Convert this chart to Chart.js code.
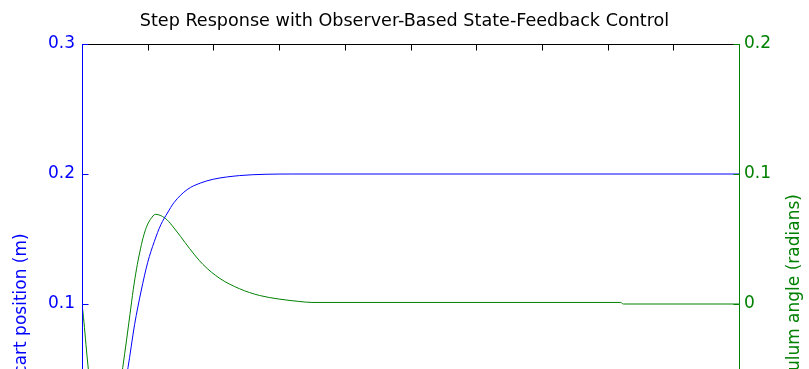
<!DOCTYPE html>
<html>
<head>
<meta charset="utf-8">
<script src="https://cdn.jsdelivr.net/npm/chart.js@4.4.1/dist/chart.umd.min.js"></script>
<style>
  html, body { margin: 0; padding: 0; background: #fff; overflow: hidden; width: 809px; height: 369px; }
  #wrap { position: relative; width: 809px; height: 660px; }
</style>
</head>
<body>
<div id="wrap"><canvas id="c" width="809" height="660"></canvas></div>
<script>
// Labels
const chartTitle = 'Step Response with Observer-Based State-Feedback Control';
const leftLabel = 'cart position (m)';
const rightLabel = 'pendulum angle (radians)';
const xLabel = 'Time (sec)';

// Cart position response (m)
const timeCart = [0, 0.05, 0.1, 0.15, 0.2, 0.25, 0.3, 0.35, 0.4, 0.45, 0.5, 0.55, 0.6, 0.65, 0.7, 0.8, 0.9, 1.0, 1.2, 1.4, 1.6, 5.0];
const cartPos  = [0, -0.004, -0.009, -0.010, -0.006, 0.005, 0.024, 0.051, 0.084, 0.110, 0.132, 0.148, 0.161, 0.170, 0.178, 0.188, 0.193, 0.196, 0.1988, 0.1998, 0.2, 0.2];

// Pendulum angle response (radians)
const timeAngle = [0, 0.015, 0.03, 0.045, 0.08, 0.12, 0.16, 0.2, 0.25, 0.29, 0.31, 0.34, 0.365, 0.39, 0.415, 0.44, 0.465, 0.49, 0.52, 0.56, 0.6, 0.65, 0.7, 0.75, 0.82, 0.92, 1.05, 1.2, 1.35, 1.5, 1.65, 1.75, 4.1, 4.12, 5.0];
const angle     = [0, -0.014, -0.031, -0.047, -0.080, -0.105, -0.116, -0.110, -0.089, -0.064, -0.049, -0.027, -0.008, 0.011, 0.027, 0.040, 0.051, 0.059, 0.065, 0.069, 0.068, 0.0645, 0.0585, 0.052, 0.0425, 0.0305, 0.0196, 0.0117, 0.0066, 0.0038, 0.002, 0.0012, 0.0012, 0, 0];

// Tick values
const xTicks = [0, 0.5, 1, 1.5, 2, 2.5, 3, 3.5, 4, 4.5, 5];
const leftTicks = [-0.1, 0, 0.1, 0.2, 0.3];
const rightTicks = [-0.2, -0.1, 0, 0.1, 0.2];

const FONT = 'DejaVu Sans';
const BLUE = '#0000ff';
const GREEN = '#008000';
const fmt = v => String(Number(v.toFixed(2)));
const setTicks = list => scale => { scale.ticks = list.map(v => ({ value: v })); };

// Box outline with inward-pointing tick marks, plus the right-hand axis title
const framePlugin = {
  id: 'frame',
  afterDraw(chart) {
    const { ctx, chartArea: a, scales } = chart;
    const L = Math.round(a.left) + 0.5, R = Math.round(a.right) + 0.5;
    const T = Math.round(a.top) + 0.5, B = Math.round(a.bottom) + 0.5;
    const TL = 6;
    ctx.save();
    ctx.lineWidth = 1;

    ctx.strokeStyle = '#000';
    ctx.beginPath();
    ctx.moveTo(L, T); ctx.lineTo(R, T);
    ctx.moveTo(L, B); ctx.lineTo(R, B);
    scales.x.ticks.forEach(t => {
      const px = Math.round(scales.x.getPixelForValue(t.value)) + 0.5;
      ctx.moveTo(px, T); ctx.lineTo(px, T + TL);
      ctx.moveTo(px, B); ctx.lineTo(px, B - TL);
    });
    ctx.stroke();

    ctx.strokeStyle = BLUE;
    ctx.beginPath();
    ctx.moveTo(L, T - 0.5); ctx.lineTo(L, B + 0.5);
    scales.y.ticks.forEach(t => {
      const py = Math.round(scales.y.getPixelForValue(t.value)) + 0.5;
      ctx.moveTo(L, py); ctx.lineTo(L + TL, py);
    });
    ctx.stroke();

    ctx.strokeStyle = GREEN;
    ctx.beginPath();
    ctx.moveTo(R, T - 0.5); ctx.lineTo(R, B + 0.5);
    scales.y1.ticks.forEach(t => {
      const py = Math.round(scales.y1.getPixelForValue(t.value)) + 0.5;
      ctx.moveTo(R, py); ctx.lineTo(R - TL, py);
    });
    ctx.stroke();

    ctx.fillStyle = GREEN;
    ctx.font = '17px "' + FONT + '"';
    ctx.textAlign = 'center';
    ctx.textBaseline = 'middle';
    ctx.translate(795, (a.top + a.bottom) / 2);
    ctx.rotate(-Math.PI / 2);
    ctx.fillText(rightLabel, 0, 0);
    ctx.restore();
  }
};

new Chart(document.getElementById('c'), {
  type: 'line',
  data: {
    datasets: [
      {
        label: leftLabel,
        data: timeCart.map((t, i) => ({ x: t, y: cartPos[i] })),
        yAxisID: 'y',
        borderColor: BLUE,
        borderWidth: 1,
        pointRadius: 0,
        cubicInterpolationMode: 'monotone',
        fill: false
      },
      {
        label: rightLabel,
        data: timeAngle.map((t, i) => ({ x: t, y: angle[i] })),
        yAxisID: 'y1',
        borderColor: GREEN,
        borderWidth: 1,
        pointRadius: 0,
        cubicInterpolationMode: 'monotone',
        fill: false
      }
    ]
  },
  options: {
    responsive: false,
    animation: false,
    devicePixelRatio: 1,
    layout: { padding: 0 },
    plugins: {
      legend: { display: false },
      tooltip: { enabled: false },
      title: {
        display: true,
        text: chartTitle,
        color: '#000',
        font: { family: FONT, size: 17.6, weight: 'normal', lineHeight: 1.2 },
        padding: { top: 11, bottom: 11.9 }
      }
    },
    scales: {
      x: {
        type: 'linear',
        position: 'bottom',
        min: 0, max: 5,
        afterBuildTicks: setTicks(xTicks),
        afterFit: s => { s.height = 96; s.paddingLeft = 0; s.paddingRight = 0; },
        grid: { display: false, drawTicks: false },
        border: { display: false },
        ticks: { color: '#000', padding: 8, font: { family: FONT, size: 17 }, callback: v => fmt(v) },
        title: { display: true, text: xLabel, color: '#000', font: { family: FONT, size: 17 } }
      },
      y: {
        type: 'linear',
        position: 'left',
        min: -0.1, max: 0.3,
        afterBuildTicks: setTicks(leftTicks),
        afterFit: s => { s.width = 82; s.paddingTop = 0; s.paddingBottom = 0; },
        grid: { display: false, drawTicks: false },
        border: { display: false },
        ticks: { color: BLUE, padding: 7, font: { family: FONT, size: 17 }, callback: v => fmt(v) },
        title: { display: true, text: leftLabel, color: BLUE, font: { family: FONT, size: 17 }, padding: { top: 11 } }
      },
      y1: {
        type: 'linear',
        position: 'right',
        min: -0.2, max: 0.2,
        afterBuildTicks: setTicks(rightTicks),
        afterFit: s => { s.width = 70; s.paddingTop = 0; s.paddingBottom = 0; },
        grid: { display: false, drawTicks: false },
        border: { display: false },
        ticks: { color: GREEN, padding: 5, font: { family: FONT, size: 17 }, callback: v => fmt(v) }
      }
    }
  },
  plugins: [framePlugin]
});
</script>
</body>
</html>
